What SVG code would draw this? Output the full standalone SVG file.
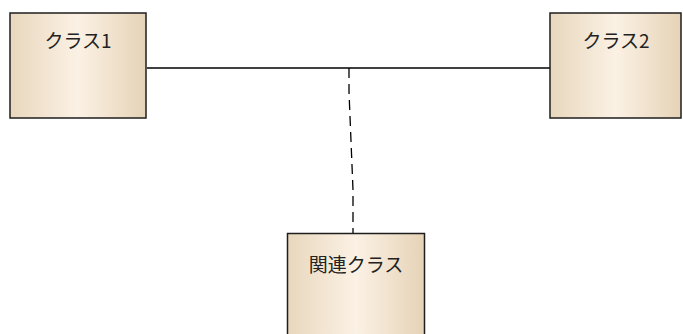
<svg xmlns="http://www.w3.org/2000/svg" width="683" height="334" viewBox="0 0 683 334">
<defs>
<linearGradient id="g" x1="0" y1="0" x2="1" y2="0">
<stop offset="0" stop-color="#e8d7bd"/>
<stop offset="0.5" stop-color="#fbf1e4"/>
<stop offset="1" stop-color="#e6d3b7"/>
</linearGradient>
<style>
.box{fill:url(#g);stroke:#1e1e1e;stroke-width:1.5}
.t{font-family:"Noto Sans CJK JP","Noto Sans",sans-serif;font-size:19px;fill:#222;text-anchor:middle}
.c{fill:none;stroke:#000;stroke-width:1.3}
.d{stroke-dasharray:10,6}
</style>
</defs>
<rect width="683" height="334" fill="#fff"/>
<g id="connectors">
<line class="c" x1="147" y1="68" x2="550" y2="68"/>
<polyline class="c d" points="349,68 349,92 353,190 353,233"/>
</g>
<g id="class1">
<rect class="box" x="10" y="13" width="136" height="105"/>
<text class="t" x="78" y="48">クラス1</text>
</g>
<g id="class2">
<rect class="box" x="550" y="13" width="131" height="105"/>
<text class="t" x="616" y="48">クラス2</text>
</g>
<g id="assoc">
<rect class="box" x="287.5" y="233.5" width="137" height="110"/>
<text class="t" x="356" y="272">関連クラス</text>
</g>
</svg>
